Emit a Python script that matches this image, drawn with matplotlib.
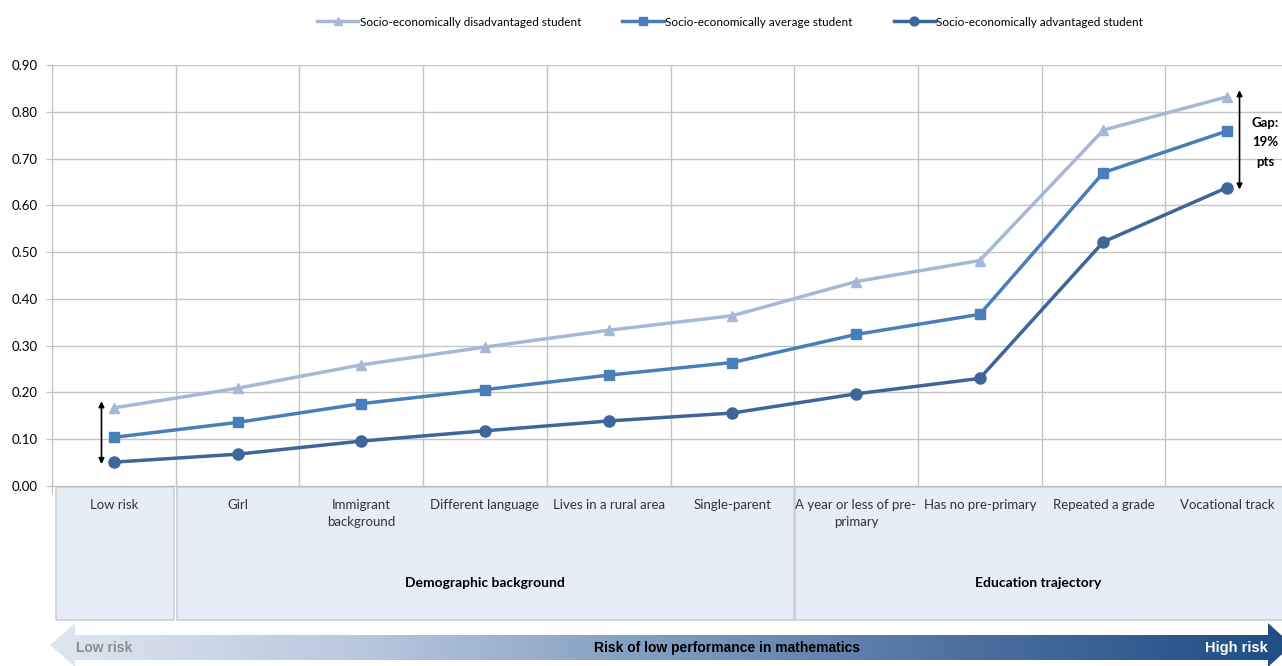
import numpy as np
import matplotlib
matplotlib.use("Agg")
import matplotlib.pyplot as plt
from matplotlib.patches import Rectangle, Polygon
from matplotlib.colors import LinearSegmentedColormap

plt.rcParams["font.family"] = ["Lato", "DejaVu Sans"]

categories = ["Low risk", "Girl", "Immigrant\nbackground", "Different language",
              "Lives in a rural area", "Single-parent", "A year or less of pre-\nprimary",
              "Has no pre-primary", "Repeated a grade", "Vocational track"]
disadvantaged = [0.167, 0.209, 0.259, 0.297, 0.333, 0.364, 0.437, 0.482, 0.761, 0.832]
average = [0.104, 0.136, 0.176, 0.206, 0.237, 0.264, 0.324, 0.367, 0.670, 0.759]
advantaged = [0.051, 0.068, 0.096, 0.118, 0.139, 0.156, 0.197, 0.230, 0.522, 0.638]
series_names = ["Socio-economically disadvantaged student",
                "Socio-economically average student",
                "Socio-economically advantaged student"]
groups = [("Demographic background", 0.5, 5.5), ("Education trajectory", 5.5, 9.45)]
yticks = np.arange(0, 0.91, 0.1)

W, H = 1282, 666
fig = plt.figure(figsize=(W / 100, H / 100), dpi=100)

# background layer in pixel coords for the bottom arrow
bg = fig.add_axes([0, 0, 1, 1])
bg.set_xlim(0, W); bg.set_ylim(H, 0); bg.axis("off")
cmap = LinearSegmentedColormap.from_list(
    "risk", ["#dfe6f1", "#b9c8dd", "#7e9abf", "#4a6e9e", "#1f4d84"])
grad = np.linspace(0, 1, 512).reshape(1, -1)
im = bg.imshow(grad, cmap=cmap, extent=[48, 1290, 668, 622], aspect="auto", zorder=1)
arrow = Polygon([[50, 645], [75, 623], [75, 635], [1268, 635], [1268, 623],
                 [1292, 645], [1268, 667], [1268, 660], [75, 660], [75, 667]],
                closed=True, facecolor="none", edgecolor="none")
bg.add_patch(arrow)
im.set_clip_path(arrow)
bg.text(76, 648, "Low risk", fontsize=10, fontweight="bold", color="#8c8c8c",
        family=["Liberation Sans"], va="center", ha="left")
bg.text(727, 648, "Risk of low performance in mathematics", fontsize=10,
        fontweight="bold", color="black", family=["Liberation Sans"], va="center", ha="center")
bg.text(1268, 648, "High risk", fontsize=10.5, fontweight="bold", color="white",
        family=["Liberation Sans"], va="center", ha="right")

ax = fig.add_axes([52 / W, 1 - 486 / H, 1237 / W, 421 / H])
x = np.arange(len(categories))
ax.set_xlim(-0.5, len(categories) - 0.5)
ax.set_ylim(0, 0.9)
ax.set_yticks(yticks)
ax.set_yticklabels([f"{v:.2f}" for v in yticks], fontsize=9.5)
ax.set_xticks(np.arange(-0.5, len(categories), 1))
ax.set_xticklabels([])
ax.tick_params(axis="x", length=5, color="#bfbfbf", direction="out")
ax.tick_params(axis="y", length=4, color="#bfbfbf", pad=6)
ax.grid(True, color="#c4c4c4", lw=1)
ax.set_axisbelow(True)
for s in ["top", "right"]:
    ax.spines[s].set_visible(False)
for s in ["left", "bottom"]:
    ax.spines[s].set_color("#bfbfbf")

styles = [("#a6b8d6", "^", 7), ("#4a7ebb", "s", 7), ("#3d6699", "o", 8)]
for vals, name, (c, m, ms) in zip([disadvantaged, average, advantaged], series_names, styles):
    ax.plot(x, vals, color=c, marker=m, markersize=ms, lw=2.5, label=name, zorder=3)

# double-headed gap arrows
ax.annotate("", xy=(-0.1, advantaged[0] - 0.01), xytext=(-0.1, disadvantaged[0] + 0.02),
            arrowprops=dict(arrowstyle="<|-|>", color="black", lw=1.2, mutation_scale=8))
ax.annotate("", xy=(9.1, advantaged[-1] - 0.01), xytext=(9.1, disadvantaged[-1] + 0.02),
            arrowprops=dict(arrowstyle="<|-|>", color="black", lw=1.2, mutation_scale=8),
            annotation_clip=False)
ax.text(9.31, 0.735, "Gap:\n19%\npts", fontsize=9.5, fontweight="bold", ha="center",
        va="center", linespacing=1.75)

# category boxes and labels below axis
tr = ax.get_xaxis_transform()
box_kw = dict(facecolor="#e6edf7", edgecolor="#d0d0d0", lw=1.2, transform=tr, clip_on=False)
ax.add_patch(Rectangle((-0.47, -0.318), 0.96, 0.316, **box_kw))
for name, x0, x1 in groups:
    ax.add_patch(Rectangle((x0 + 0.01, -0.318), x1 - x0 - 0.01, 0.316, **box_kw))
    ax.text((x0 + x1) / 2, -0.23, name, transform=tr, ha="center", va="center",
            fontsize=10, fontweight="bold")
for xi, lab in zip(x, categories):
    ax.text(xi, -0.03, lab, transform=tr, ha="center", va="top", fontsize=9.5,
            color="#333333", linespacing=1.55)

ax.legend(loc="center", bbox_to_anchor=(730 / W, 1 - 22 / H), bbox_transform=fig.transFigure,
          ncol=3, frameon=False, fontsize=8.5, handlelength=3.5, handletextpad=0.1,
          columnspacing=3.5, markerscale=0.8)

fig.savefig("out.png", dpi=100)
